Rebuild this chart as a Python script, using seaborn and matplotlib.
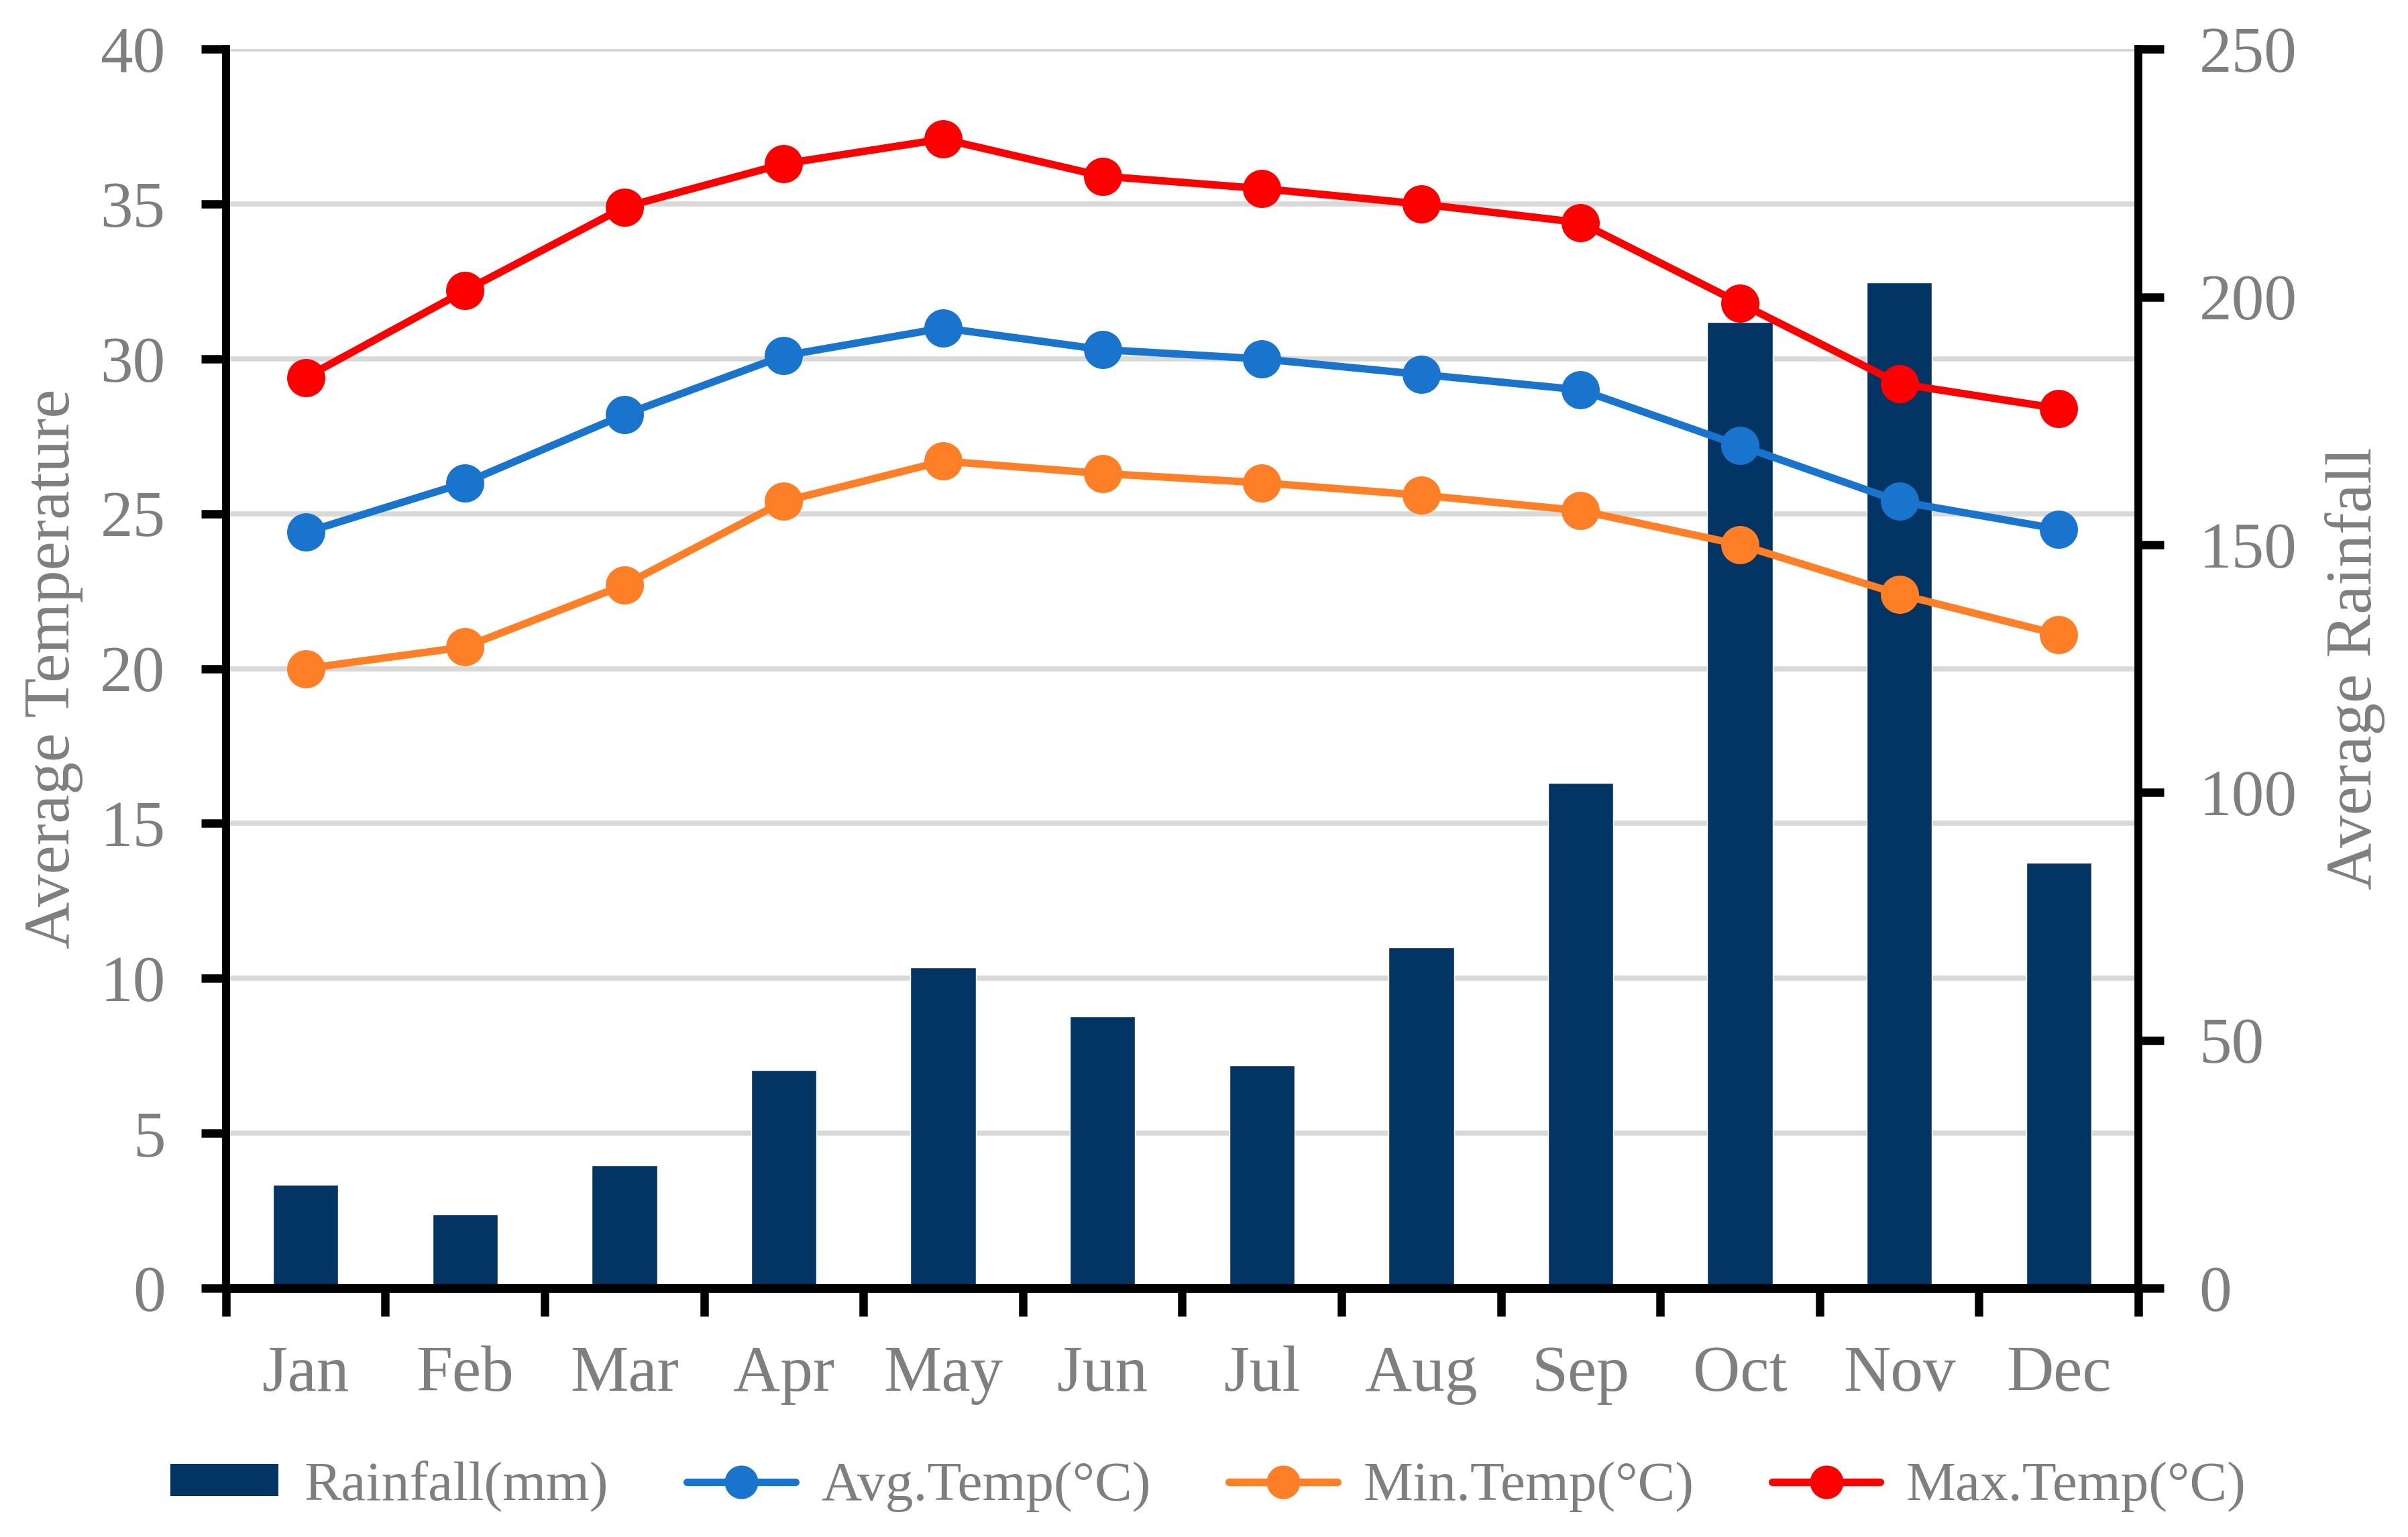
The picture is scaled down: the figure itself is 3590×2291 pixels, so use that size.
import matplotlib
matplotlib.use("Agg")
import matplotlib.pyplot as plt
import seaborn as sns
import numpy as np
from matplotlib.lines import Line2D
from matplotlib.patches import Patch

# ---- data ----
months = ["Jan", "Feb", "Mar", "Apr", "May", "Jun", "Jul", "Aug", "Sep", "Oct", "Nov", "Dec"]
rainfall = [20.8, 14.9, 24.8, 44.0, 64.7, 54.8, 44.9, 68.8, 101.9, 194.9, 202.9, 85.8]
avg_temp = [24.4, 26.0, 28.2, 30.1, 31.0, 30.3, 30.0, 29.5, 29.0, 27.2, 25.4, 24.5]
min_temp = [20.0, 20.7, 22.7, 25.4, 26.7, 26.3, 26.0, 25.6, 25.1, 24.0, 22.4, 21.1]
max_temp = [29.4, 32.2, 34.9, 36.3, 37.1, 35.9, 35.5, 35.0, 34.4, 31.8, 29.2, 28.4]
temp_ticks = list(range(0, 41, 5))
rain_ticks = list(range(0, 251, 50))
series_labels = ["Rainfall(mm)", "Avg.Temp(°C)", "Min.Temp(°C)", "Max.Temp(°C)"]

# ---- style ----
BAR_C = "#033564"
AVG_C = "#1874CD"
MIN_C = "#FF7F27"
MAX_C = "#FF0000"
GREY = "#7f7f7f"
FS = 70
LW = 8
MS = 35

sns.set_theme(style="ticks")
plt.rcParams['font.family'] = ['Liberation Serif', 'DejaVu Serif']

fig = plt.figure(figsize=(35.91, 22.91), dpi=100)
ax_t = fig.add_axes([0.0938, 0.162, 0.794, 0.806])
ax_r = ax_t.twinx()
ax_l = ax_t.twinx()
ax_t.set_zorder(0)
ax_r.set_zorder(1)
ax_l.set_zorder(2)
ax_r.patch.set_visible(False)
ax_l.patch.set_visible(False)

# bars (rainfall, right axis)
sns.barplot(x=months, y=rainfall, ax=ax_r, color=BAR_C, saturation=1,
            width=0.41, errorbar=None)

# lines (temperatures, left scale)
for vals, col in [(avg_temp, AVG_C), (min_temp, MIN_C), (max_temp, MAX_C)]:
    sns.pointplot(x=months, y=vals, ax=ax_l, color=col, markers="o",
                  errorbar=None, linewidth=LW, markersize=MS)

ax_t.set_ylim(0, 40)
ax_l.set_ylim(0, 40)
ax_r.set_ylim(0, 250)
ax_t.set_xlim(-0.5, 11.5)

# grid on the back axis
ax_t.set_yticks(temp_ticks)
ax_t.yaxis.grid(True, color="#d9d9d9", linewidth=5.5)
ax_t.xaxis.grid(False)

# x ticks
ax_t.set_xticks(range(len(months)))
ax_t.set_xticklabels(months)
ax_t.set_xticks(np.arange(-0.5, len(months), 1.0), minor=True)
ax_t.tick_params(axis="x", which="major", length=0, pad=62, labelsize=FS,
                 labelcolor=GREY, bottom=True)
ax_t.tick_params(axis="x", which="minor", length=30, width=9, color="black",
                 direction="out", bottom=True)

# left y ticks
ax_t.tick_params(axis="y", which="major", left=True, length=27, width=9,
                 color="black", direction="out", pad=38, labelsize=FS,
                 labelcolor=GREY)

# right y ticks
ax_r.set_yticks(rain_ticks)
ax_r.tick_params(axis="y", which="major", right=True, left=False, length=27,
                 width=9, color="black", direction="out", pad=38,
                 labelsize=FS, labelcolor=GREY)
ax_r.yaxis.grid(False)

# lines axis: invisible scaffolding
ax_l.yaxis.set_visible(False)
ax_l.set_xlabel("")
ax_l.set_ylabel("")

# spines
for s in ["top", "right", "bottom"]:
    ax_t.spines[s].set_visible(False)
ax_t.spines["left"].set_color("black")
ax_t.spines["left"].set_linewidth(8.5)
for s in ["top", "left", "bottom"]:
    ax_r.spines[s].set_visible(False)
ax_r.spines["right"].set_color("black")
ax_r.spines["right"].set_linewidth(8.5)
for s in ["top", "left", "right"]:
    ax_l.spines[s].set_visible(False)
ax_l.spines["bottom"].set_color("black")
ax_l.spines["bottom"].set_linewidth(9.5)
ax_l.spines["bottom"].set_capstyle("projecting")

# axis labels
ax_t.set_xlabel("")
ax_t.set_ylabel("Average Temperature", fontsize=FS, color=GREY, labelpad=18)
ax_r.set_xlabel("")
ax_r.set_ylabel("Average Rainfall", fontsize=FS, color=GREY, labelpad=30,
                rotation=90)

# legend
handles = [
    Patch(facecolor=BAR_C, edgecolor="none"),
    Line2D([], [], color=AVG_C, lw=LW, marker="o", markersize=MS),
    Line2D([], [], color=MIN_C, lw=LW, marker="o", markersize=MS),
    Line2D([], [], color=MAX_C, lw=LW, marker="o", markersize=MS),
]
fig.legend(handles, series_labels, loc="center", bbox_to_anchor=(0.5016, 0.033),
           ncol=4, frameon=False, fontsize=60, labelcolor=GREY,
           handlelength=1.94, handleheight=0.5, handletextpad=0.46,
           columnspacing=1.4)

fig.savefig("out.png", dpi=100, facecolor="white")
